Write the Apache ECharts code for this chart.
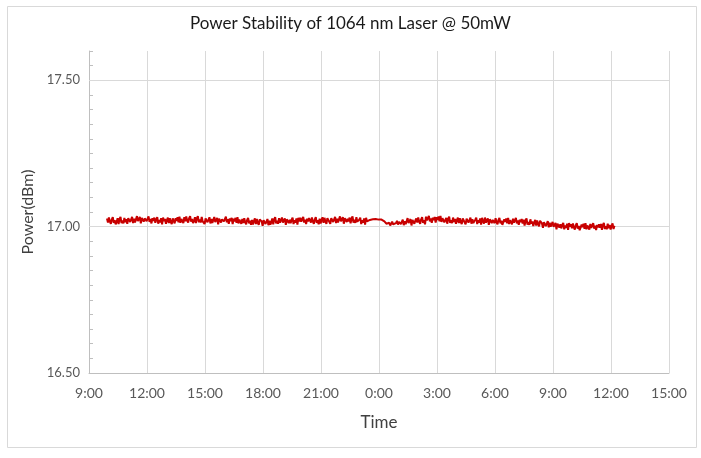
<!DOCTYPE html>
<html>
<head>
<meta charset="utf-8">
<script src="https://cdn.jsdelivr.net/npm/echarts@6/dist/echarts.min.js"></script>
<style>
html,body{margin:0;padding:0;background:#fff;}
#chart{width:701px;height:458px;}
</style>
</head>
<body>
<div id="chart"></div>
<script>
// ---- data ----
var chartTitle = 'Power Stability of 1064 nm Laser @ 50mW';
var xAxisName = 'Time';
var yAxisName = 'Power(dBm)';
var xTickHours = [9, 12, 15, 18, 21, 24, 27, 30, 33, 36, 39]; // hours since 0:00 of day 1
var yTickLabels = [16.5, 17.0, 17.5];
var startHour = 9.93;   // first sample time (hours)
var sampleStep = 0.05;  // hours between samples
var power = [
17.028,17.014,17.031,17.017,17.010,17.025,17.032,17.013,17.022,17.008,
17.016,17.029,17.009,17.026,17.033,17.012,17.021,17.011,17.030,17.015,
17.025,17.010,17.029,17.032,17.016,17.020,17.033,17.012,17.027,17.014,
17.015,17.036,17.019,17.026,17.033,17.011,17.030,17.032,17.017,17.028,
17.032,17.019,17.013,17.035,17.016,17.026,17.011,17.029,17.020,17.031,
17.013,17.025,17.032,17.010,17.023,17.015,17.029,17.008,17.031,17.019,
17.026,17.010,17.022,17.031,17.012,17.029,17.016,17.009,17.028,17.023,
17.011,17.029,17.020,17.032,17.015,17.034,17.013,17.026,17.028,17.012,
17.032,17.018,17.035,17.021,17.014,17.029,17.036,17.017,17.026,17.012,
17.019,17.032,17.012,17.029,17.036,17.015,17.024,17.014,17.033,17.018,
17.024,17.009,17.028,17.031,17.015,17.019,17.032,17.011,17.026,17.013,
17.012,17.033,17.016,17.023,17.030,17.008,17.027,17.029,17.014,17.025,
17.031,17.018,17.012,17.034,17.015,17.025,17.010,17.028,17.019,17.030,
17.009,17.027,17.018,17.030,17.013,17.032,17.011,17.024,17.026,17.010,
17.026,17.012,17.029,17.015,17.008,17.023,17.030,17.011,17.020,17.006,
17.023,17.007,17.019,17.028,17.009,17.026,17.013,17.006,17.025,17.020,
17.018,17.003,17.022,17.025,17.009,17.013,17.026,17.005,17.020,17.007,
17.015,17.028,17.008,17.025,17.032,17.011,17.020,17.010,17.029,17.014,
17.010,17.031,17.014,17.021,17.028,17.006,17.025,17.027,17.012,17.023,
17.012,17.024,17.031,17.009,17.022,17.014,17.028,17.007,17.030,17.018,
17.030,17.017,17.011,17.033,17.014,17.024,17.009,17.027,17.018,17.029,
17.028,17.014,17.031,17.017,17.010,17.025,17.032,17.013,17.022,17.008,
17.027,17.011,17.023,17.032,17.013,17.030,17.017,17.010,17.029,17.024,
17.025,17.010,17.029,17.032,17.016,17.020,17.033,17.012,17.027,17.014,
17.014,17.035,17.018,17.025,17.032,17.010,17.029,17.031,17.016,17.027,
17.018,17.031,17.011,17.028,17.035,17.014,17.023,17.013,17.032,17.017,
17.012,17.024,17.031,17.009,17.022,17.014,17.028,17.007,17.030,17.018,
17.020,17.022,17.023,17.024,17.024,17.025,17.024,17.025,17.026,17.025,
17.025,17.024,17.025,17.026,17.024,17.023,17.021,17.018,17.014,17.010,
17.015,17.006,17.013,17.004,17.010,17.017,17.008,17.014,17.003,17.012,
17.020,17.007,17.016,17.022,17.009,17.011,17.024,17.005,17.018,17.008,
17.008,17.029,17.012,17.019,17.026,17.004,17.023,17.025,17.010,17.021,
17.028,17.014,17.031,17.017,17.010,17.025,17.032,17.013,17.022,17.008,
17.034,17.021,17.015,17.037,17.018,17.028,17.013,17.031,17.022,17.033,
17.014,17.032,17.023,17.035,17.018,17.037,17.016,17.029,17.031,17.015,
17.017,17.030,17.010,17.027,17.034,17.013,17.022,17.012,17.031,17.016,
17.026,17.010,17.022,17.031,17.012,17.029,17.016,17.009,17.028,17.023,
17.023,17.008,17.027,17.030,17.014,17.018,17.031,17.010,17.025,17.012,
17.012,17.024,17.031,17.009,17.022,17.014,17.028,17.007,17.030,17.018,
17.010,17.031,17.014,17.021,17.028,17.006,17.025,17.027,17.012,17.023,
17.026,17.012,17.029,17.015,17.008,17.023,17.030,17.011,17.020,17.006,
17.007,17.025,17.016,17.028,17.011,17.030,17.009,17.022,17.024,17.008,
17.027,17.014,17.008,17.030,17.011,17.021,17.006,17.024,17.015,17.026,
17.011,17.024,17.004,17.021,17.028,17.007,17.016,17.006,17.025,17.010,
17.018,17.002,17.014,17.023,17.004,17.021,17.008,17.001,17.020,17.015,
17.011,16.996,17.015,17.018,17.002,17.006,17.019,16.998,17.013,17.000,
16.995,17.016,16.999,17.006,17.013,16.991,17.010,17.012,16.997,17.008,
16.994,17.006,17.013,16.991,17.004,16.996,17.010,16.989,17.012,17.000,
17.008,16.994,17.011,16.997,16.990,17.005,17.012,16.993,17.002,16.988,
16.989,17.007,16.998,17.010,16.993,17.012,16.991,17.004,17.006,16.990,
17.009,16.996,16.990,17.012,16.993,17.003,16.988,17.006,16.997,17.008,
16.996,17.009,16.989,17.006,17.013,16.992,17.001,16.991,17.010,16.995,
17.006,16.990,17.002,17.011,16.992,17.003
];

// ---- build ----
var seriesData = power.map(function (v, i) {
  return [startHour + i * sampleStep, v];
});

function hourLabel(v) {
  var h = Math.round(v) % 24;
  return h + ':00';
}

var chart = echarts.init(document.getElementById('chart'), null, {renderer: 'canvas'});
var font = 'Lato, "Open Sans", sans-serif';
chart.setOption({
  animation: false,
  backgroundColor: '#ffffff',
  textStyle: {fontFamily: font},
  title: {
    text: chartTitle,
    left: 'center',
    top: 10,
    textStyle: {fontFamily: font, fontSize: 17, fontWeight: 'normal', color: '#1a1a1a'}
  },
  graphic: [{
    type: 'rect',
    silent: true,
    z: 0,
    shape: {x: 7.5, y: 6.5, width: 689, height: 441},
    style: {fill: 'none', stroke: '#d9d9d9', lineWidth: 1}
  }],
  grid: {left: 89, right: 32, top: 51, bottom: 85, containLabel: false},
  xAxis: {
    type: 'value',
    min: xTickHours[0],
    max: xTickHours[xTickHours.length - 1],
    interval: 3,
    name: xAxisName,
    nameLocation: 'middle',
    nameGap: 41,
    nameTextStyle: {fontFamily: font, fontSize: 17, color: '#404040'},
    axisLine: {show: true, lineStyle: {color: '#bfbfbf', width: 1}},
    axisTick: {show: false},
    axisLabel: {
      margin: 13,
      fontFamily: font, fontSize: 14, color: '#595959',
      formatter: hourLabel
    },
    splitLine: {show: true, lineStyle: {color: '#d9d9d9', width: 1}}
  },
  yAxis: {
    type: 'value',
    min: 16.5,
    max: 17.6,
    interval: 0.05,
    name: yAxisName,
    nameLocation: 'middle',
    nameGap: 46,
    nameTextStyle: {fontFamily: font, fontSize: 16, color: '#404040'},
    axisLine: {show: true, lineStyle: {color: '#bfbfbf', width: 1}},
    axisTick: {show: true, inside: true, length: 4, lineStyle: {color: '#bfbfbf'}},
    axisLabel: {
      margin: 9,
      fontFamily: font, fontSize: 13, color: '#595959',
      formatter: function (v) {
        for (var k = 0; k < yTickLabels.length; k++) {
          if (Math.abs(v - yTickLabels[k]) < 1e-6) return yTickLabels[k].toFixed(2);
        }
        return '';
      }
    },
    splitLine: {show: false}
  },
  series: [
    {
      name: 'grid',
      type: 'line',
      z: 1,
      data: [],
      silent: true,
      markLine: {
        silent: true,
        z: 1,
        symbol: ['none', 'none'],
        label: {show: false},
        lineStyle: {color: '#d9d9d9', width: 1, type: 'solid'},
        data: yTickLabels.slice(1).map(function (v) { return {yAxis: v}; })
      }
    },
    {
      name: 'Power',
      type: 'line',
      z: 3,
      data: seriesData,
      showSymbol: false,
      symbol: 'none',
      sampling: null,
      lineStyle: {color: '#c80000', width: 2},
      itemStyle: {color: '#c80000'}
    }
  ]
});
</script>
</body>
</html>
